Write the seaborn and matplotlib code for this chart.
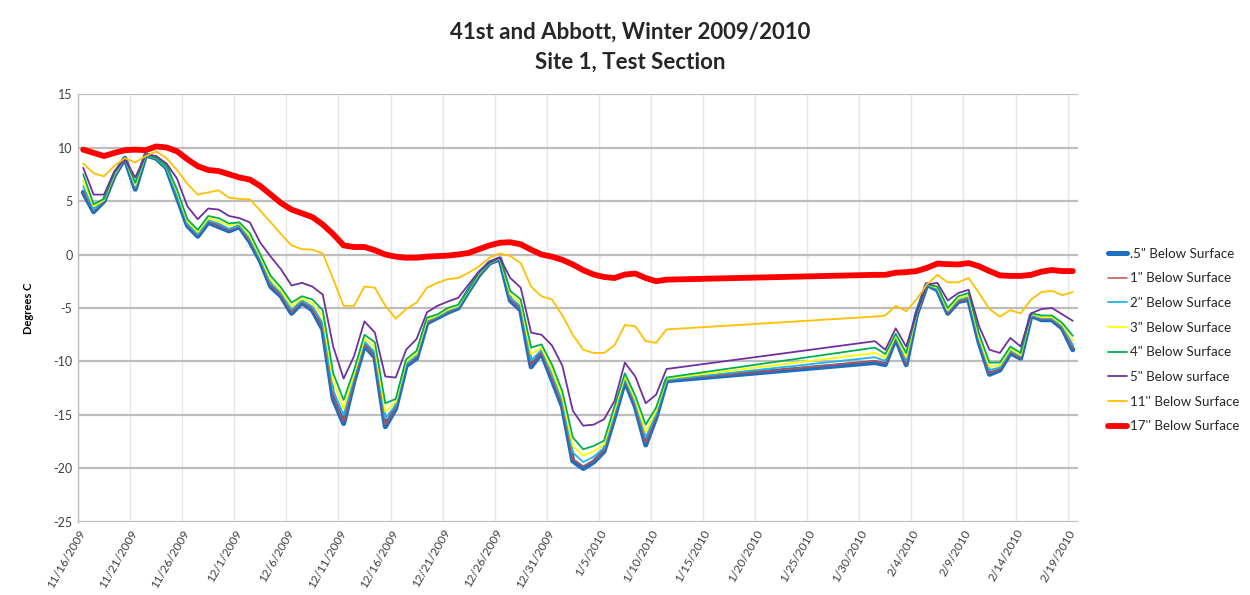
import numpy as np
import pandas as pd
import matplotlib
matplotlib.use("Agg")
import matplotlib.pyplot as plt
import matplotlib.dates as mdates
import seaborn as sns

# ---- data -------------------------------------------------------------
# daily readings 11/16/2009 - 1/11/2010, then 1/31/2010 - 2/19/2010
seg1_start, seg1_end = "2009-11-16", "2010-01-11"
seg2_start, seg2_end = "2010-01-31", "2010-02-19"
dates = list(pd.date_range(seg1_start, seg1_end)) + list(pd.date_range(seg2_start, seg2_end))

s05 = [5.8, 4.0, 5.0, 7.4, 9.0, 6.1, 9.3, 9.0, 8.1, 5.4, 2.7, 1.7, 3.0, 2.6, 2.2, 2.6, 1.2,
       -0.6, -3.0, -3.9, -5.5, -4.5, -5.2, -7.0, -13.5, -15.8, -11.8, -8.5, -9.6, -16.1, -14.4,
       -10.4, -9.7, -6.4, -5.9, -5.4, -5.0, -3.4, -1.9, -0.8, -0.4, -4.3, -5.2, -10.5, -9.2,
       -11.7, -14.2, -19.3, -20.0, -19.4, -18.4, -15.2, -11.8, -14.2, -17.8, -15.2, -11.8,
       -10.1, -10.3, -7.8, -10.3, -5.6, -2.8, -3.3, -5.5, -4.4, -4.2, -8.2, -11.2, -10.8,
       -9.2, -9.7, -5.7, -6.1, -6.1, -6.9, -8.9]
s1 = [6.0, 4.1, 5.0, 7.4, 9.0, 6.2, 9.3, 9.0, 8.1, 5.5, 2.8, 1.8, 3.1, 2.7, 2.3, 2.6, 1.3,
      -0.5, -2.9, -3.8, -5.4, -4.4, -5.1, -6.8, -13.3, -15.6, -11.7, -8.4, -9.5, -15.9, -14.3,
      -10.3, -9.6, -6.35, -5.85, -5.35, -4.95, -3.4, -1.9, -0.8, -0.4, -4.2, -5.1, -10.3, -9.1,
      -11.55, -14.05, -19.1, -19.8, -19.25, -18.3, -15.1, -11.7, -14.1, -17.6, -15.1, -11.75,
      -9.95, -10.2, -7.75, -10.2, -5.6, -2.8, -3.25, -5.45, -4.35, -4.15, -8.1, -11.1, -10.7,
      -9.15, -9.65, -5.7, -6.05, -6.05, -6.85, -8.75]
s2 = [6.4, 4.2, 5.1, 7.5, 9.0, 6.3, 9.3, 9.0, 8.1, 5.6, 2.9, 1.9, 3.2, 2.9, 2.4, 2.7, 1.5,
      -0.4, -2.65, -3.6, -5.15, -4.3, -4.85, -6.4, -12.7, -15.0, -11.45, -8.15, -9.1, -15.3, -14.1,
      -10.2, -9.45, -6.2, -5.8, -5.25, -4.9, -3.35, -1.8, -0.8, -0.35, -4.0, -4.85, -9.9, -8.9,
      -11.2, -13.7, -18.5, -19.4, -18.9, -18.05, -14.85, -11.55, -13.85, -17.1, -14.9, -11.7,
      -9.6, -9.95, -7.65, -9.9, -5.55, -2.8, -3.2, -5.3, -4.2, -4.0, -7.9, -10.8, -10.55,
      -9.0, -9.5, -5.65, -5.95, -5.95, -6.7, -8.45]
s3 = [6.9, 4.5, 5.1, 7.5, 9.0, 6.5, 9.3, 9.0, 8.2, 5.9, 3.1, 2.1, 3.4, 3.1, 2.7, 2.9, 1.7,
      -0.2, -2.35, -3.4, -4.85, -4.1, -4.55, -5.8, -11.9, -14.4, -11.15, -7.85, -8.7, -14.7, -13.8,
      -10.0, -9.25, -6.1, -5.7, -5.15, -4.8, -3.35, -1.75, -0.8, -0.35, -3.7, -4.55, -9.3, -8.7,
      -10.8, -13.3, -17.9, -18.8, -18.4, -17.75, -14.55, -11.35, -13.55, -16.6, -14.6, -11.6,
      -9.2, -9.65, -7.55, -9.6, -5.55, -2.8, -3.1, -5.2, -4.1, -3.8, -7.7, -10.5, -10.35,
      -8.8, -9.4, -5.55, -5.85, -5.85, -6.55, -8.05]
s4 = [7.5, 4.7, 5.2, 7.6, 9.0, 6.7, 9.3, 9.0, 8.2, 6.1, 3.3, 2.3, 3.6, 3.4, 2.9, 3.0, 2.0,
      0.0, -2.0, -3.1, -4.5, -3.9, -4.2, -5.2, -11.1, -13.6, -10.8, -7.5, -8.2, -13.9, -13.5,
      -9.8, -9.0, -5.9, -5.6, -5.0, -4.7, -3.3, -1.7, -0.8, -0.3, -3.4, -4.2, -8.7, -8.4,
      -10.3, -12.8, -17.1, -18.2, -17.9, -17.4, -14.2, -11.1, -13.2, -15.9, -14.3, -11.5,
      -8.7, -9.3, -7.4, -9.2, -5.5, -2.8, -3.0, -5.0, -3.9, -3.6, -7.4, -10.1, -10.1,
      -8.6, -9.2, -5.5, -5.7, -5.7, -6.4, -7.6]
s5 = [8.1, 5.6, 5.6, 7.8, 8.9, 7.2, 9.35, 9.2, 8.5, 7.1, 4.5, 3.3, 4.3, 4.2, 3.6, 3.4, 3.0,
      1.1, -0.2, -1.4, -2.9, -2.65, -3.0, -3.75, -8.6, -11.6, -9.5, -6.25, -7.3, -11.4, -11.5,
      -8.9, -7.9, -5.4, -4.8, -4.4, -4.05, -2.8, -1.56, -0.7, -0.3, -2.2, -3.1, -7.3, -7.5,
      -8.5, -10.4, -14.6, -16.0, -15.9, -15.4, -13.7, -10.1, -11.4, -13.9, -13.1, -10.7,
      -8.1, -8.9, -6.9, -8.6, -5.45, -2.8, -2.65, -4.3, -3.6, -3.3, -6.7, -8.9, -9.2,
      -7.8, -8.6, -5.5, -5.1, -5.0, -5.6, -6.2]
s11 = [8.5, 7.6, 7.3, 8.3, 9.0, 8.6, 9.2, 9.65, 9.0, 7.9, 6.6, 5.6, 5.8, 6.0, 5.3, 5.2, 5.15,
       4.1, 3.0, 1.9, 0.85, 0.5, 0.45, 0.1, -2.3, -4.8, -4.8, -3.0, -3.1, -4.8, -6.0,
       -5.1, -4.5, -3.1, -2.65, -2.3, -2.2, -1.7, -1.1, -0.3, 0.1, -0.15, -0.8, -3.0, -3.9,
       -4.2, -5.7, -7.5, -8.9, -9.2, -9.2, -8.5, -6.6, -6.7, -8.1, -8.25, -7.0,
       -5.8, -5.7, -4.8, -5.3, -4.2, -2.8, -1.9, -2.6, -2.6, -2.2, -3.6, -5.1, -5.8,
       -5.2, -5.5, -4.2, -3.5, -3.4, -3.8, -3.5]
s17 = [9.8, 9.5, 9.2, 9.5, 9.75, 9.8, 9.75, 10.1, 10.0, 9.65, 8.9, 8.25, 7.9, 7.8, 7.5, 7.2, 7.0,
       6.4, 5.6, 4.8, 4.2, 3.85, 3.5, 2.8, 1.9, 0.85, 0.7, 0.7, 0.4, 0.0, -0.2,
       -0.3, -0.3, -0.2, -0.15, -0.1, 0.0, 0.15, 0.5, 0.85, 1.1, 1.15, 0.95, 0.45, 0.0,
       -0.2, -0.5, -0.93, -1.46, -1.87, -2.1, -2.2, -1.87, -1.78, -2.2, -2.5, -2.35,
       -1.9, -1.9, -1.7, -1.65, -1.55, -1.25, -0.85, -0.9, -0.93, -0.8, -1.1, -1.55, -1.95,
       -2.0, -2.0, -1.9, -1.6, -1.45, -1.55, -1.55]

series_names = ['.5" Below Surface', '1" Below Surface', '2" Below Surface', '3" Below Surface',
                '4" Below Surface', '5" Below surface', "11'' Below Surface", "17'' Below Surface"]
series_values = [s05, s1, s2, s3, s4, s5, s11, s17]
colors = ["#1F6FC0", "#C0504D", "#1FB5EE", "#FFFF00", "#00B050", "#7030A0", "#FFC000", "#FF0000"]
widths = [3.6, 1.1, 1.3, 1.3, 1.3, 1.3, 1.3, 4.2]

tick_labels = ["11/16/2009", "11/21/2009", "11/26/2009", "12/1/2009", "12/6/2009", "12/11/2009",
               "12/16/2009", "12/21/2009", "12/26/2009", "12/31/2009", "1/5/2010", "1/10/2010",
               "1/15/2010", "1/20/2010", "1/25/2010", "1/30/2010", "2/4/2010", "2/9/2010",
               "2/14/2010", "2/19/2010"]
y_ticks = [-25, -20, -15, -10, -5, 0, 5, 10, 15]

# ---- plot -------------------------------------------------------------
sns.set_theme(style="white")
plt.rcParams["font.family"] = ["Lato", "DejaVu Sans"]

fig = plt.figure(figsize=(12.5, 5.95), dpi=100)
ax = fig.add_axes([0.0624, 0.1227, 0.8, 0.7193])

x_pos = [d + pd.Timedelta(hours=12) for d in dates]
for name, vals, col, lw in zip(series_names, series_values, colors, widths):
    df = pd.DataFrame({"date": x_pos, "value": vals})
    sns.lineplot(data=df, x="date", y="value", ax=ax, color=col, linewidth=lw,
                 label=name, sort=False, estimator=None)

tick_dates = [pd.Timestamp(pd.to_datetime(t, format="%m/%d/%Y")) for t in tick_labels]
ax.set_xticks(tick_dates)
ax.set_xticklabels(tick_labels, rotation=60, ha="right", rotation_mode="anchor",
                   fontsize=8.5, color="#404040")
ax.set_xlim(pd.Timestamp("2009-11-16"), pd.Timestamp("2010-02-20"))
ax.set_ylim(-25, 15)
ax.set_yticks(y_ticks)
ax.set_yticklabels([str(v) for v in y_ticks], fontsize=9, color="#404040")
ax.tick_params(axis="both", length=0, pad=4)

ax.grid(axis="y", color="#BDBDBD", linewidth=1.6)
ax.grid(axis="x", color="#E6E6E6", linewidth=1.0)
ax.set_axisbelow(True)
for s in ["top", "right", "bottom"]:
    ax.spines[s].set_visible(False)
ax.spines["left"].set_color("#BDBDBD")
ax.spines["left"].set_linewidth(1.0)

# small tick marks on the category axis that crosses at 0
for td in tick_dates:
    ax.plot([td, td], [0, -0.45], color="#BDBDBD", linewidth=1.0, zorder=0.5)

ax.set_xlabel("")
ax.set_ylabel("Degrees C", fontsize=8, fontweight="bold", color="#000000", labelpad=14)

fig.text(0.504, 0.946, "41st and Abbott, Winter 2009/2010", ha="center", va="center",
         fontsize=16, fontweight="bold")
fig.text(0.504, 0.896, "Site 1, Test Section", ha="center", va="center",
         fontsize=16, fontweight="bold")

leg = ax.legend(loc="center left", bbox_to_anchor=(1.018, 0.425), frameon=False,
                fontsize=9.6, handlelength=1.45, handletextpad=0.2, labelspacing=0.95)
for t in leg.get_texts():
    t.set_color("#262626")

fig.savefig("out.png", dpi=100, facecolor="white")
